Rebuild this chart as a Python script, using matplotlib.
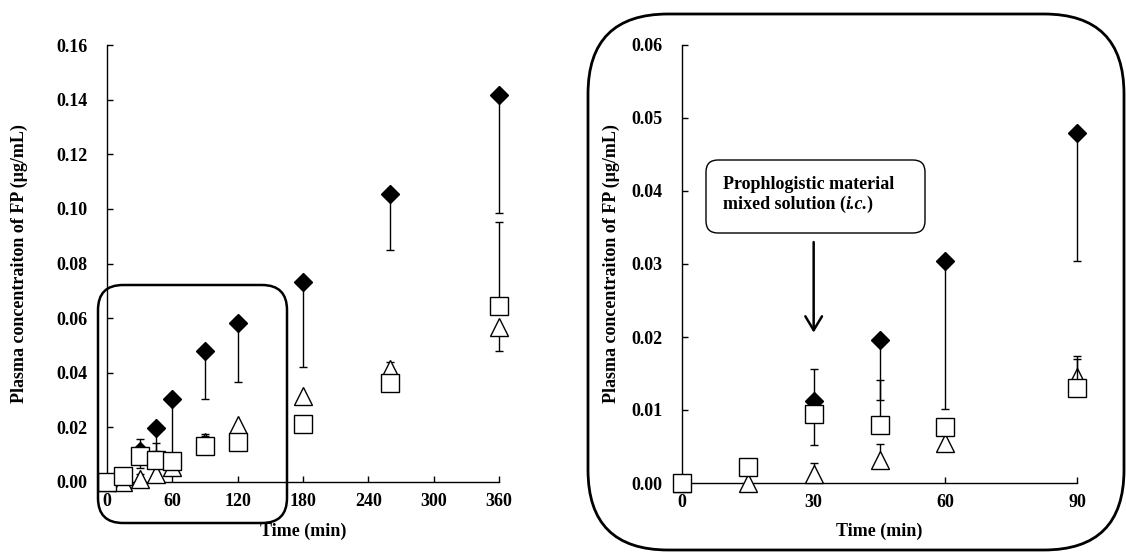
import numpy as np
import matplotlib
matplotlib.use('Agg')
import matplotlib.pyplot as plt
from matplotlib.patches import FancyBboxPatch

# ---------------- data ----------------
time_min = [0, 15, 30, 45, 60, 90, 120, 180, 260, 360]

diamond_vals = [0.0, 0.0020, 0.0113, 0.0196, 0.0304, 0.0480, 0.0581, 0.0732, 0.1055, 0.1416]
diamond_err_low = [0, 0, 0, 0.0082, 0.0203, 0.0176, 0.0214, 0.0312, 0.0207, 0.0431]
diamond_err_high = [0, 0, 0.0043, 0, 0, 0, 0, 0, 0, 0]

square_vals = [0.0, 0.0022, 0.0094, 0.0080, 0.0077, 0.0130, 0.0146, 0.0214, 0.0363, 0.0643]
square_err_low = [0, 0, 0.0042, 0, 0, 0, 0, 0, 0, 0]
square_err_high = [0, 0, 0, 0.0061, 0, 0.0040, 0, 0, 0, 0.0309]

triangle_vals = [0.0, 0.0, 0.0012, 0.0031, 0.0055, 0.0145, 0.0207, 0.0314, 0.0412, 0.0567]
triangle_err_low = [0, 0, 0, 0, 0, 0, 0, 0.0030, 0, 0.0087]
triangle_err_high = [0, 0, 0.0016, 0.0023, 0, 0.0029, 0, 0, 0.0027, 0]

left_xticks = [0, 60, 120, 180, 240, 300, 360]
left_yticks = [0.00, 0.02, 0.04, 0.06, 0.08, 0.10, 0.12, 0.14, 0.16]
right_xticks = [0, 30, 60, 90]
right_yticks = [0.00, 0.01, 0.02, 0.03, 0.04, 0.05, 0.06]

ylabel_text = 'Plasma concentraiton of FP (\u03bcg/mL)'
xlabel_text = 'Time (min)'
box_line1 = 'Prophlogistic material'
box_line2a = 'mixed solution ('
box_line2b = 'i.c.'
box_line2c = ')'

# ---------------- style ----------------
plt.rcParams['font.family'] = ['Liberation Serif', 'DejaVu Serif']
plt.rcParams['font.weight'] = 'bold'
FS = 13

fig = plt.figure(figsize=(11.26, 5.52), dpi=100)
ax1 = fig.add_axes([107/1126, (552-482)/552, 392/1126, 437/552])
ax2 = fig.add_axes([682/1126, (552-483)/552, 395/1126, 438/552])


def series(ax, vals, lo, hi, tmax, marker, ms, face, z):
    t = np.array(time_min, dtype=float)
    v = np.array(vals, dtype=float)
    l = np.array(lo, dtype=float)
    h = np.array(hi, dtype=float)
    m = t <= tmax
    cont = ax.errorbar(t[m], v[m], yerr=[l[m], h[m]], fmt=marker, ms=ms,
                       mfc=face, mec='black', mew=1.0, ecolor='black',
                       elinewidth=1.0, capsize=3, capthick=1.0, zorder=z)
    data_line, caplines, barcols = cont.lines
    data_line.set_clip_on(False)
    for c in caplines:
        c.set_clip_on(False)
    for b in barcols:
        b.set_clip_on(False)


def setup(ax, xt, yt, xmax, ymax, ylab_x, xlab_y):
    series(ax, diamond_vals, diamond_err_low, diamond_err_high, xmax, 'D', 9.6, 'black', 3)
    series(ax, triangle_vals, triangle_err_low, triangle_err_high, xmax, '^', 13, 'white', 4)
    series(ax, square_vals, square_err_low, square_err_high, xmax, 's', 12.5, 'white', 5)
    ax.set_xlim(0, xmax)
    ax.set_ylim(0, ymax)
    ax.set_xticks(xt)
    ax.set_xticklabels([str(x) for x in xt])
    ax.set_yticks(yt)
    ax.set_yticklabels(['%.2f' % y for y in yt])
    for s in ['top', 'right']:
        ax.spines[s].set_visible(False)
    for s in ['left', 'bottom']:
        ax.spines[s].set_linewidth(1.0)
    ax.tick_params(axis='both', direction='in', length=4.5, width=1.0, labelsize=FS)
    ax.tick_params(axis='y', pad=14)
    ax.tick_params(axis='x', pad=8)
    ax.set_ylabel(ylabel_text, fontsize=FS, fontweight='bold')
    ax.set_xlabel(xlabel_text, fontsize=FS, fontweight='bold')
    ax.yaxis.set_label_coords(ylab_x, 0.5)
    ax.xaxis.set_label_coords(0.5, xlab_y)
    ax.patch.set_alpha(0)


setup(ax1, left_xticks, left_yticks, 360, 0.16, -0.2015, -0.094)
setup(ax2, right_xticks, right_yticks, 90, 0.06, -0.157, -0.091)

# arrow in the right panel
ax2.annotate('', xy=(30, 0.0206), xytext=(30, 0.0330),
             arrowprops=dict(arrowstyle='->,head_length=0.5,head_width=0.3',
                             lw=1.8, color='black', shrinkA=0, shrinkB=0,
                             mutation_scale=20),
             annotation_clip=False)

# rounded frames (inches from bottom-left)
tr = fig.dpi_scale_trans
big = FancyBboxPatch((5.88, 0.02), 5.36, 5.36,
                     boxstyle='round,pad=0,rounding_size=0.8',
                     transform=tr, fill=False, lw=2.0, ec='black')
small = FancyBboxPatch((0.98, 0.29), 1.89, 2.38,
                       boxstyle='round,pad=0,rounding_size=0.25',
                       transform=tr, fill=False, lw=1.8, ec='black')
tbox = FancyBboxPatch((7.06, 3.19), 2.19, 0.73,
                      boxstyle='round,pad=0,rounding_size=0.12',
                      transform=tr, fill=False, lw=1.0, ec='black')
for p in (big, small, tbox):
    fig.add_artist(p)

fig.text(7.23, (552 - 189) / 100, box_line1, transform=tr, ha='left',
         va='baseline', fontsize=FS, fontweight='bold')
t2a = fig.text(7.23, (552 - 209) / 100, box_line2a, transform=tr, ha='left',
               va='baseline', fontsize=FS, fontweight='bold')
t2b = fig.text(0, 0, box_line2b, fontsize=FS, fontweight='bold', style='italic',
               ha='left', va='bottom')
t2c = fig.text(0, 0, box_line2c, fontsize=FS, fontweight='bold',
               ha='left', va='bottom')

fig.canvas.draw()
r = fig.canvas.get_renderer()
bb = t2a.get_window_extent(r)
inv = fig.transFigure.inverted()
x0, y0 = inv.transform((bb.x1, bb.y0))
t2b.set_position((x0, y0))
bb2 = t2b.get_window_extent(r)
x1, _ = inv.transform((bb2.x1 - 2, bb2.y0))
t2c.set_position((x1, y0))

fig.savefig('out.png', dpi=100)
